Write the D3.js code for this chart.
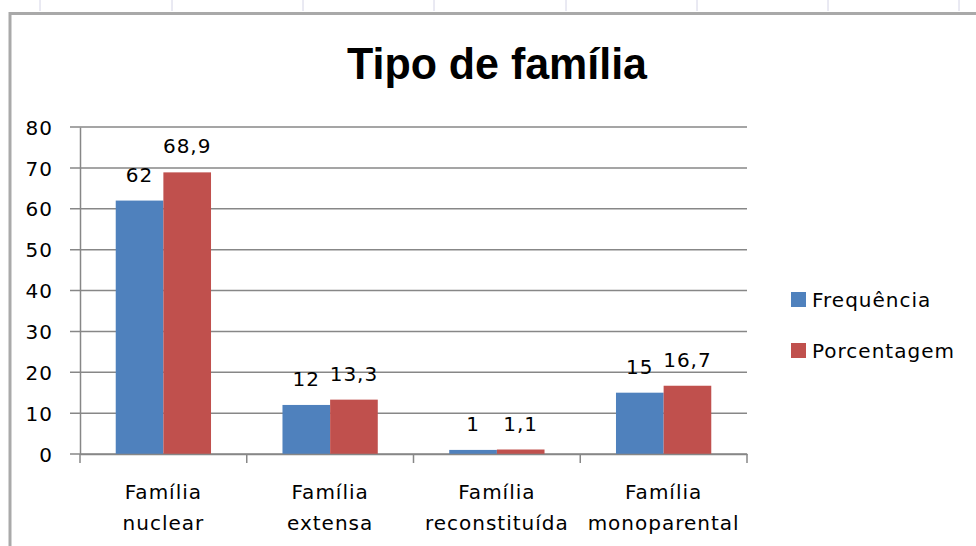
<!DOCTYPE html>
<html>
<head>
<meta charset="utf-8">
<script src="https://cdn.jsdelivr.net/npm/d3@7"></script>
<style>
  body { margin: 0; background: #fff; }
  svg { display: block; }
</style>
</head>
<body>
<svg width="976" height="546"></svg>
<script>
var categories = ["Família nuclear", "Família extensa", "Família reconstituída", "Família monoparental"];
var seriesNames = ["Frequência", "Porcentagem"];
var frequencia = [62, 12, 1, 15];
var porcentagem = [68.9, 13.3, 1.1, 16.7];
var yTicks = [0, 10, 20, 30, 40, 50, 60, 70, 80];
var colors = ["#4f81bd", "#c0504d"];

var svg = d3.select("svg"),
    margin = {top: 127, left: 80, right: 229, bottom: 92},
    width = 976 - margin.left - margin.right,
    height = 546 - margin.top - margin.bottom,
    fontFam = '"DejaVu Sans", sans-serif',
    fs = 20, ls = 1;

// chart frame (spreadsheet object border)
svg.append("path")
  .attr("d", "M10,546 V13.5 H976")
  .attr("fill", "none")
  .attr("stroke", "#a9a9a9")
  .attr("stroke-width", 3);

// faint spreadsheet cell marks
[40, 172, 303, 434, 566, 697, 828, 959].forEach(function(x) {
  svg.append("line").attr("x1", x).attr("x2", x).attr("y1", 0).attr("y2", 11)
    .attr("stroke", "#d4d4e6").attr("stroke-width", 1);
});

svg.append("text")
  .attr("x", 497)
  .attr("y", 79)
  .attr("text-anchor", "middle")
  .attr("font-family", '"Liberation Sans Narrow", "Liberation Sans", sans-serif')
  .attr("font-weight", "bold")
  .attr("font-size", 44)
  .attr("textLength", 300)
  .attr("lengthAdjust", "spacingAndGlyphs")
  .text("Tipo de família");

var g = svg.append("g")
  .attr("transform", "translate(" + margin.left + "," + margin.top + ")");

var x0 = d3.scaleBand().domain(categories).range([0, width]).paddingInner(0).paddingOuter(0);
var bw = x0.bandwidth() / 3.5;
var x1 = d3.scaleBand().domain(seriesNames).range([bw * 0.75, bw * 2.75]);
var y = d3.scaleLinear().domain([0, 80]).range([height, 0]);

// gridlines
g.append("g")
  .selectAll("line").data(yTicks).enter().append("line")
  .attr("x1", -10).attr("x2", width)
  .attr("y1", function(d) { return y(d); })
  .attr("y2", function(d) { return y(d); })
  .attr("stroke", "#878787")
  .attr("stroke-width", 1.5);

// y axis
var yAxis = g.append("g")
  .call(d3.axisLeft(y).tickValues(yTicks).tickSize(0).tickPadding(27));
yAxis.select(".domain").attr("stroke", "#878787").attr("stroke-width", 1.5);
yAxis.selectAll(".tick text")
  .attr("font-size", fs).attr("fill", "#000").attr("font-family", fontFam)
  .attr("letter-spacing", ls).attr("dy", "0.36em");

// bars
var rows = categories.map(function(c, i) {
  return {cat: c, values: [frequencia[i], porcentagem[i]]};
});
var groups = g.selectAll(".grp").data(rows).enter().append("g")
  .attr("class", "grp")
  .attr("transform", function(d) { return "translate(" + x0(d.cat) + ",0)"; });

function cells(d) {
  return d.values.map(function(v, i) { return {name: seriesNames[i], v: v, i: i}; });
}

groups.selectAll("rect").data(cells).enter().append("rect")
  .attr("x", function(d) { return x1(d.name); })
  .attr("width", x1.bandwidth())
  .attr("y", function(d) { return y(d.v); })
  .attr("height", function(d) { return height - y(d.v); })
  .attr("fill", function(d) { return colors[d.i]; });

groups.selectAll(".lbl").data(cells).enter().append("text")
  .attr("class", "lbl")
  .attr("x", function(d) { return x1(d.name) + x1.bandwidth() / 2; })
  .attr("y", function(d) { return y(d.v) - 19; })
  .attr("text-anchor", "middle")
  .attr("font-family", fontFam)
  .attr("font-size", fs)
  .attr("letter-spacing", ls)
  .text(function(d) { return String(d.v).replace(".", ","); });

// x axis
var xAxis = g.append("g")
  .attr("transform", "translate(0," + height + ")")
  .call(d3.axisBottom(x0).tickSize(0).tickFormat(""));
xAxis.select(".domain").attr("stroke", "#878787").attr("stroke-width", 1.5);
xAxis.selectAll(".tick").remove();
xAxis.selectAll(".bd").data(d3.range(categories.length + 1)).enter().append("line")
  .attr("x1", function(i) { return i * x0.bandwidth(); })
  .attr("x2", function(i) { return i * x0.bandwidth(); })
  .attr("y1", 0).attr("y2", 9)
  .attr("stroke", "#878787").attr("stroke-width", 1.5);

categories.forEach(function(c) {
  var parts = c.split(" ");
  var cx = x0(c) + x0.bandwidth() / 2;
  var t = xAxis.append("text")
    .attr("x", cx)
    .attr("y", 45)
    .attr("text-anchor", "middle")
    .attr("font-family", fontFam)
    .attr("font-size", fs)
    .attr("letter-spacing", ls)
    .attr("fill", "#000");
  parts.forEach(function(p, k) {
    t.append("tspan").attr("x", cx).attr("dy", k ? 31 : 0).text(p);
  });
});

// legend
var legend = svg.append("g").attr("transform", "translate(791,292)");
seriesNames.forEach(function(n, i) {
  var row = legend.append("g").attr("transform", "translate(0," + i * 51 + ")");
  row.append("rect").attr("width", 15).attr("height", 15).attr("fill", colors[i]);
  row.append("text").attr("x", 21).attr("y", 15)
    .attr("font-family", fontFam).attr("font-size", fs)
    .attr("letter-spacing", ls).text(n);
});
</script>
</body>
</html>
